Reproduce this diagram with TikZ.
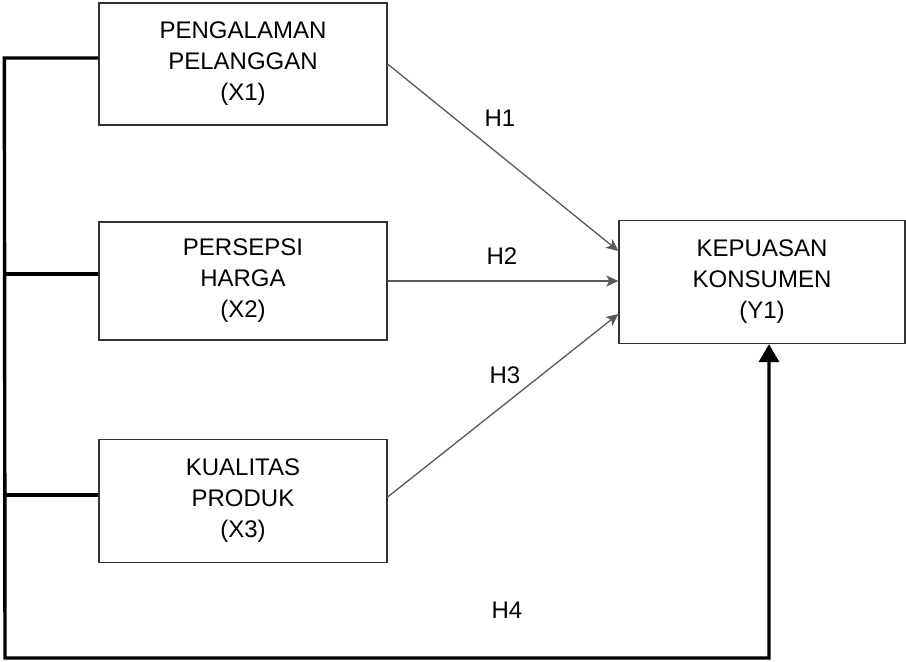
\documentclass[tikz,border=0pt]{standalone}
\usepackage{fontspec}
\setmainfont{Liberation Sans}
\usetikzlibrary{calc,positioning,arrows.meta}

\begin{document}
\begin{tikzpicture}[x=1pt,y=1pt,
	var/.style={draw=black!80,line width=1.3pt,minimum width=288pt,minimum height=122pt,inner sep=0pt,align=center,text=black,font=\fontsize{24}{31}\selectfont},
	link/.style={draw=black!65,line width=1.3pt,-{Stealth[length=12pt,width=11pt,inset=3pt]}},
	bus/.style={line width=3.4pt},
	hyp/.style={text=black,font=\fontsize{24}{28}\selectfont}]
	\useasboundingbox (0,0) rectangle (906,-662);
	% variables
	\node[var] (x1) at (243,-64) {PENGALAMAN\\PELANGGAN\\(X1)};
	\node[var,minimum height=118pt] (x2) at (243,-281) {PERSEPSI\\HARGA\\(X2)};
	\node[var,minimum height=123pt] (x3) at (243,-501) {KUALITAS\\PRODUK\\(X3)};
	\node[var,minimum width=286pt,minimum height=123pt] (y1) at (762,-282) {KEPUASAN\\KONSUMEN\\(Y1)};
	% hypotheses
	\draw[link] (x1.east) -- ($(y1.west)+(0,31)$);
	\draw[link] (x2.east) -- (x2.east -| y1.west);
	\draw[link] ($(x3.east)+(0,4)$) -- ($(y1.west)+(0,-32)$);
	\node[hyp] (h1) at (500,-118) {H1};
	\node[hyp] (h2) at (502,-256) {H2};
	\node[hyp] (h3) at (505,-375) {H3};
	\node[hyp] (h4) at (507,-610) {H4};
	% simultaneous path
	\coordinate (bl) at (5,-658);
	\coordinate (br) at (769,-658);
	\draw[bus,-{Triangle[length=18pt,width=20pt]}] ($(x1.west)+(0,6)$) -- ($(x1.west)+(-94,6)$) -- (bl) -- (br) -- (br |- y1.south);
	\draw[bus] ($(x2.west)+(0,7)$) -- ($(x2.west)+(-94,7)$);
	\draw[bus] ($(x3.west)+(0,6)$) -- ($(x3.west)+(-94,6)$);
\end{tikzpicture}
\end{document}
